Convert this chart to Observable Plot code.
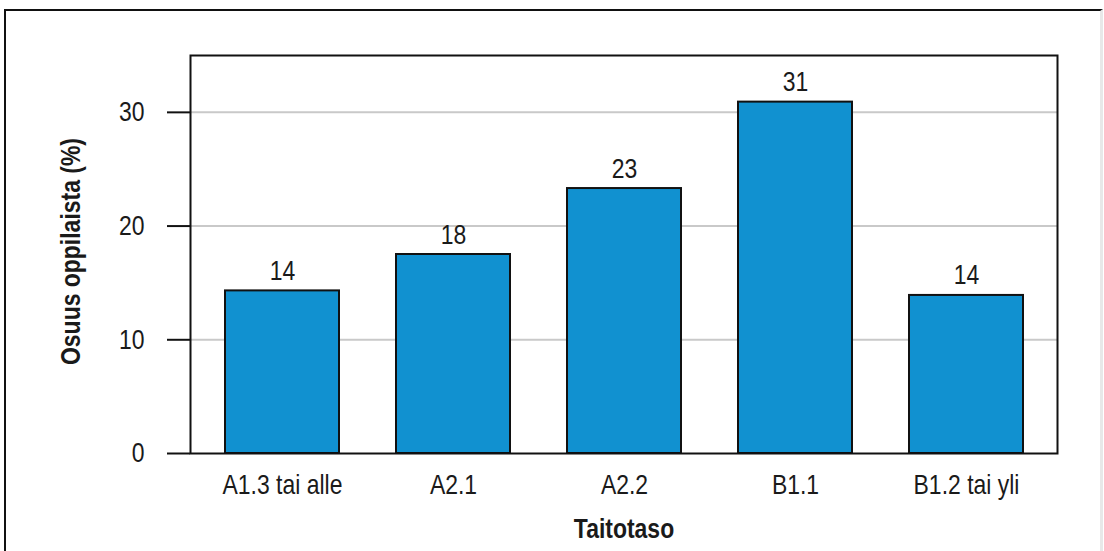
<!DOCTYPE html>
<html lang="fi">
<head>
<meta charset="utf-8">
<title>Taitotaso</title>
<script src="https://cdn.jsdelivr.net/npm/d3@7"></script>
<script src="https://cdn.jsdelivr.net/npm/@observablehq/plot@0.6"></script>
<style>
  html, body { margin: 0; padding: 0; background: #fff; overflow: hidden; }
  #wrap { position: relative; width: 1104px; height: 551px; }
  #border {
    position: absolute; left: 4px; top: 9px; width: 1094px; height: 560px;
    border-top: 2px solid #111; border-left: 2px solid #111; border-right: 3px solid #e8e8e8;
    pointer-events: none;
  }
  #chart svg { display: block; }
</style>
</head>
<body>
<div id="wrap">
  <div id="chart"></div>
  <div id="border"></div>
</div>
<script>
// Skill levels and share of pupils at each level (%)
const levels = ["A1.3 tai alle", "A2.1", "A2.2", "B1.1", "B1.2 tai yli"];
const shares = [14.3, 17.5, 23.3, 30.9, 13.9];
const yTicks = [0, 10, 20, 30];
const gridTicks = [10, 20, 30];
const xTitle = "Taitotaso";
const yTitle = "Osuus oppilaista (%)";

const rows = levels.map((level, i) => ({level, share: shares[i]}));

const font = "'Liberation Sans', Arial, Helvetica, sans-serif";

const chart = Plot.plot({
  width: 1104,
  height: 551,
  marginLeft: 190,
  marginRight: 47,
  marginTop: 55,
  marginBottom: 98,
  style: {fontFamily: font, background: "transparent", color: "#1a1a1a"},
  x: {domain: levels, paddingInner: 0.336, paddingOuter: 0.19},
  y: {domain: [0, 35]},
  marks: [
    Plot.gridY(gridTicks, {stroke: "#c9c9c9", strokeOpacity: 1, strokeWidth: 2}),
    Plot.barY(rows, {x: "level", y: "share", fill: "#1191d0", stroke: "#111", strokeWidth: 2}),
    Plot.text(rows, {
      x: "level", y: "share", text: (d) => d3.format(".0f")(d.share),
      lineAnchor: "bottom", dy: -11, fontSize: 28, fill: "#1a1a1a"
    }),
    Plot.frame({stroke: "#111", strokeWidth: 2}),
    Plot.axisY(yTicks, {
      tickSize: 23, tickPadding: 23, fontSize: 28, label: null,
      stroke: "#111", strokeWidth: 2, fill: "#1a1a1a"
    }),
    Plot.axisX({tickSize: 0, tickPadding: 21, fontSize: 28, label: null, fill: "#1a1a1a"}),
    Plot.text([xTitle], {
      frameAnchor: "bottom", dy: 84, lineAnchor: "bottom",
      fontSize: 28, fontWeight: "bold", fill: "#1a1a1a"
    }),
    Plot.text([yTitle], {
      frameAnchor: "left", dx: -119, dy: -3, rotate: -90,
      textAnchor: "middle", lineAnchor: "middle",
      fontSize: 28, fontWeight: "bold", fill: "#1a1a1a"
    })
  ]
});

// The lettering is a narrow sans: condense every label along its own direction
chart.querySelectorAll("text").forEach((t) => {
  const tr = t.getAttribute("transform") || "";
  t.setAttribute("transform", tr + " scale(0.82,1)");
});

document.getElementById("chart").appendChild(chart);
</script>
</body>
</html>
